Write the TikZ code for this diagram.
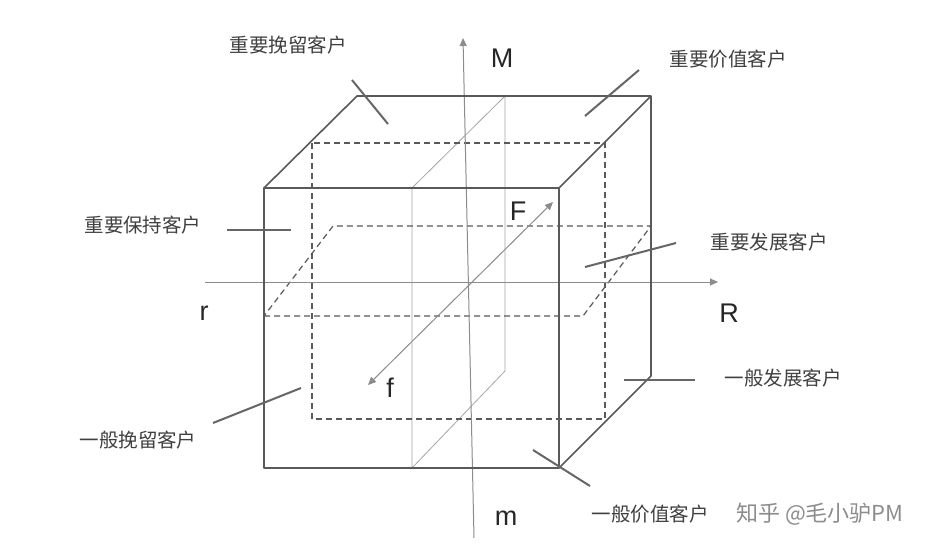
\documentclass[tikz,border=0pt]{standalone}
\usepackage{fontspec}
\setmainfont{Liberation Sans}
\newfontfamily\cjk{Noto Sans CJK SC}
\usetikzlibrary{arrows.meta}
\begin{document}
\begin{tikzpicture}[x=1pt,y=-1pt,
  edge/.style={draw=black!65,line width=1.6pt},
  dashline/.style={draw=black!65,line width=1.2pt,dash pattern=on 6pt off 4pt},
  planeline/.style={draw=black!35,line width=0.8pt},
  axis/.style={draw=black!45,line width=1pt},
  callout/.style={draw=black!60,line width=2pt},
  lab/.style={font=\cjk\fontsize{19.5}{20}\selectfont,text=black!75},
  axl/.style={font=\fontsize{27}{27}\selectfont,text=black!85}]
\useasboundingbox[fill=white] (0,0) rectangle (946,554);
% cube corners
\coordinate (a) at (264,188); \coordinate (b) at (559,188);
\coordinate (c) at (559,468); \coordinate (d) at (264,468);
\coordinate (e) at (357,96); \coordinate (f) at (651,96);
\coordinate (g) at (651,376);
% gray vertical plane
\draw[planeline] (412,188) -- (412,468) -- (505,371) -- (505,96) -- (412,188);
% dashed mid rectangle
\draw[dashline] (312,143) rectangle (605,419);
% dashed horizontal plane
\draw[dashline] (264,316) -- (583,316) -- (651,226) -- (333,226) -- cycle;
% axes
\coordinate (Ms) at (474,538); \coordinate (Me) at (463,38);
\draw[axis,-{Triangle[length=8pt,width=7pt]}] (Ms) -- (Me);
\coordinate (Rs) at (205,282); \coordinate (Re) at (718,282);
\draw[axis,-{Triangle[length=8pt,width=7pt]}] (Rs) -- (Re);
\coordinate (Fs) at (368,385); \coordinate (Fe) at (553,202);
\draw[axis,{Triangle[length=8pt,width=7pt]}-{Triangle[length=8pt,width=7pt]}] (Fs) -- (Fe);
% cube edges
\draw[edge,line join=round] (a) -- (b) -- (c) -- (d) -- cycle;
\draw[edge,line join=round] (a) -- (e) -- (f) -- (b);
\draw[edge,line join=round] (f) -- (g) -- (c);
% axis labels
\node[axl] (M) at (502,58) {M};
\node[axl] (m) at (506,518) {m};
\node[axl] (R) at (729,313) {R};
\node[axl] (r) at (204,313) {r};
\node[axl] (F) at (518,211) {F};
\node[axl] (fl) at (390,388) {f};
% callouts
\node[lab] (t1) at (288,45) {重要挽留客户};
\draw[callout] (352,80) -- (388,124);
\node[lab] (t2) at (728,59) {重要价值客户};
\draw[callout] (639,70) -- (585,116);
\node[lab] (t3) at (143,225) {重要保持客户};
\draw[callout] (227,230) -- (291,230);
\node[lab] (t4) at (769,242) {重要发展客户};
\draw[callout] (676,243) -- (585,267);
\node[lab] (t5) at (783,378) {一般发展客户};
\draw[callout] (624,380) -- (695,380);
\node[lab] (t6) at (138,440) {一般挽留客户};
\draw[callout] (301,388) -- (213,423);
\node[lab] (t7) at (650,514) {一般价值客户};
\draw[callout] (533,450) -- (590,486);
\node[font=\cjk\fontsize{22}{22}\selectfont,text=black!45] (wm) at (820,514) {知乎 @毛小驴PM};
\end{tikzpicture}
\end{document}
